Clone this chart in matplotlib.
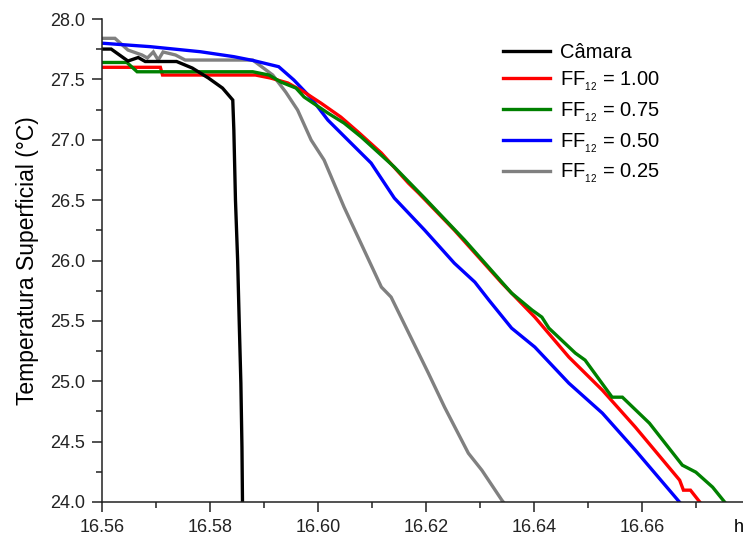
import matplotlib
matplotlib.use("Agg")
import matplotlib.pyplot as plt

# ---------- data ----------------------------------------------------------

camara_t = [16.5602, 16.5617, 16.5648, 16.5667, 16.5680, 16.5738, 16.5767,
            16.5797, 16.5823, 16.5842, 16.5844, 16.5847, 16.5851, 16.5854,
            16.5857, 16.5859, 16.5860]
camara_T = [27.751, 27.751, 27.652, 27.681, 27.648, 27.648, 27.594,
            27.511, 27.428, 27.329, 27.080, 26.500, 26.003, 25.481,
            24.984, 24.454, 23.998]

ff100_t = [16.5602, 16.5708, 16.5712, 16.5884, 16.5912, 16.5944, 16.5974,
           16.6005, 16.6042, 16.6074, 16.6117, 16.6167, 16.6186, 16.6252,
           16.6340, 16.6401, 16.6464, 16.6526, 16.6587, 16.6669, 16.6676,
           16.6689, 16.6708]
ff100_T = [27.600, 27.600, 27.536, 27.536, 27.511, 27.470, 27.395,
           27.304, 27.188, 27.064, 26.890, 26.641, 26.558, 26.252,
           25.813, 25.531, 25.200, 24.926, 24.620, 24.181, 24.098,
           24.098, 23.990]

ff075_t = [16.5602, 16.5646, 16.5665, 16.5879, 16.5909, 16.5931, 16.5959,
           16.5974, 16.6018, 16.6048, 16.6080, 16.6141, 16.6197, 16.6271,
           16.6358, 16.6396, 16.6414, 16.6427, 16.6476, 16.6494, 16.6544,
           16.6563, 16.6613, 16.6674, 16.6699, 16.6730, 16.6754]
ff075_T = [27.640, 27.640, 27.563, 27.563, 27.536, 27.478, 27.428,
           27.354, 27.221, 27.138, 27.022, 26.774, 26.517, 26.169,
           25.730, 25.589, 25.531, 25.440, 25.233, 25.175, 24.868,
           24.868, 24.653, 24.305, 24.247, 24.123, 23.990]

ff050_t = [16.5602, 16.5689, 16.5782, 16.5844, 16.5881, 16.5927, 16.5955,
           16.5987, 16.6018, 16.6055, 16.6098, 16.6141, 16.6197, 16.6252,
           16.6290, 16.6316, 16.6358, 16.6401, 16.6464, 16.6526, 16.6587,
           16.6669]
ff050_T = [27.799, 27.771, 27.729, 27.688, 27.655, 27.605, 27.495,
           27.345, 27.163, 26.998, 26.807, 26.517, 26.252, 25.978,
           25.821, 25.672, 25.440, 25.283, 24.984, 24.736, 24.429,
           23.998]

ff025_t = [16.5602, 16.5624, 16.5648, 16.5674, 16.5684, 16.5695, 16.5704,
           16.5713, 16.5736, 16.5754, 16.5879, 16.5916, 16.5940, 16.5962,
           16.5987, 16.6011, 16.6048, 16.6117, 16.6135, 16.6204, 16.6234,
           16.6278, 16.6303, 16.6340, 16.6343]
ff025_T = [27.840, 27.840, 27.743, 27.702, 27.677, 27.727, 27.660,
           27.727, 27.702, 27.660, 27.660, 27.536, 27.395, 27.246,
           26.998, 26.832, 26.442, 25.780, 25.697, 25.067, 24.785,
           24.404, 24.263, 24.015, 23.998]

labels = ["Câmara", "FF$_{_{12}}$ = 1.00", "FF$_{_{12}}$ = 0.75",
          "FF$_{_{12}}$ = 0.50", "FF$_{_{12}}$ = 0.25"]
colors = ["black", "#ff0000", "#008000", "#0000ff", "#808080"]

x_ticks = [16.56, 16.58, 16.60, 16.62, 16.64, 16.66]
y_ticks = [24.0, 24.5, 25.0, 25.5, 26.0, 26.5, 27.0, 27.5, 28.0]

# ---------- plot ----------------------------------------------------------

plt.rcParams["font.family"] = ["Liberation Sans", "DejaVu Sans"]
plt.rcParams["mathtext.fontset"] = "custom"
plt.rcParams["mathtext.rm"] = "Liberation Sans"
plt.rcParams["mathtext.it"] = "Liberation Sans"

fig = plt.figure(figsize=(7.43, 5.38), dpi=100)
ax = fig.add_axes([102 / 743, 1 - 502 / 538, 1.01 - 102 / 743, (502 - 19) / 538])

series = [(camara_t, camara_T), (ff100_t, ff100_T), (ff075_t, ff075_T),
          (ff050_t, ff050_T), (ff025_t, ff025_T)]
# draw grey first so the others sit on top of it like in the original
order = [4, 3, 1, 2, 0]
lines = {}
for i in order:
    t, T = series[i]
    lines[i], = ax.plot(t, T, color=colors[i], linewidth=2.4, label=labels[i],
                        solid_joinstyle="miter")

ax.set_xlim(16.56, 16.68)
ax.set_ylim(24.0, 28.0)
ax.set_xticks(x_ticks)
ax.set_xticklabels([f"{v:.2f}" for v in x_ticks])
ax.set_yticks(y_ticks)
ax.set_yticklabels([f"{v:.1f}" for v in y_ticks])
ax.set_xticks([16.57, 16.59, 16.61, 16.63, 16.65, 16.67], minor=True)
ax.set_yticks([24.25, 24.75, 25.25, 25.75, 26.25, 26.75, 27.25, 27.75], minor=True)
ax.tick_params(which="major", direction="out", length=7, width=1.1,
               labelsize=13, pad=5, colors="#222222")
ax.tick_params(which="minor", direction="out", length=4, width=1.1,
               colors="#222222")
for s in ["top", "right"]:
    ax.spines[s].set_visible(False)
for s in ["left", "bottom"]:
    ax.spines[s].set_linewidth(1.1)
    ax.spines[s].set_color("#222222")

ax.set_ylabel("Temperatura Superficial (°C)", fontsize=16.5, labelpad=8)
fig.text(734 / 743, 1 - 532 / 538, "h", fontsize=13, ha="left")

handles = [lines[i] for i in range(5)]
ax.legend(handles, labels, loc="upper left", frameon=False, fontsize=14.5,
          bbox_to_anchor=(495 / 743, 1 - 35 / 538),
          bbox_transform=fig.transFigure, handlelength=2.35,
          handletextpad=0.5, labelspacing=0.36, borderaxespad=0)

fig.savefig("out.png", dpi=100)
